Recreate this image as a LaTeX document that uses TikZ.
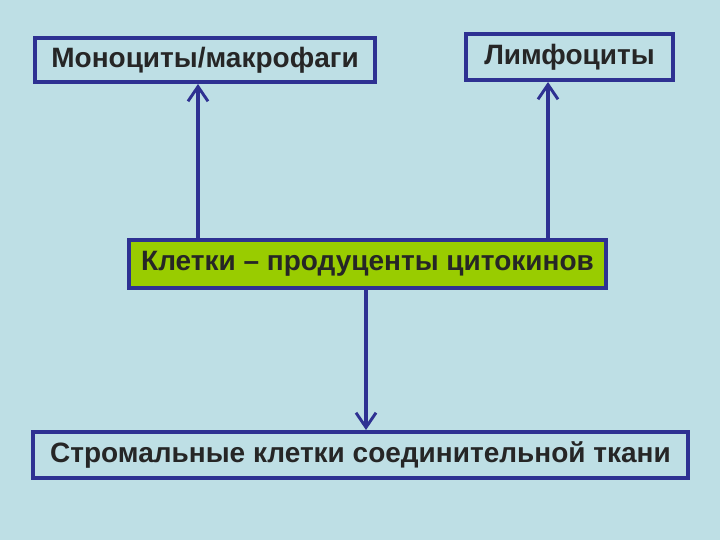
\documentclass[tikz,border=0pt]{standalone}
\usepackage{fontspec}
\setmainfont{Liberation Sans}
\usetikzlibrary{arrows.meta}
\definecolor{bg}{HTML}{BEDFE5}
\definecolor{bd}{HTML}{2E3192}
\definecolor{gr}{HTML}{99CC00}
\tikzset{box/.style={draw=bd,line width=3pt,font=\bfseries\fontsize{21}{23}\selectfont,inner sep=0pt,text=black!85},
conn/.style={draw=bd,line width=3pt,-{Straight Barb[length=11pt,width=15pt,line width=2.2pt]}}}
\begin{document}
\begin{tikzpicture}[x=0.75pt,y=-0.75pt]
\fill[bg] (0,0) rectangle (720,540);
\node[box,minimum width=255pt,minimum height=33pt] (m) at (205,60) {Моноциты/макрофаги};
\node[box,minimum width=155pt,minimum height=34.5pt] (l) at (569.5,57) {Лимфоциты};
\node[box,fill=gr,minimum width=357.75pt,minimum height=36pt] (k) at (367.5,264) {Клетки – продуценты цитокинов};
\node[box,minimum width=491.25pt,minimum height=34.5pt] (s) at (360.5,455) {Стромальные клетки соединительной ткани};
\draw[conn] (k.north -| 198,0) -- (m.south -| 198,0);
\draw[conn] (k.north -| 548,0) -- (l.south -| 548,0);
\draw[conn] (k.south -| 366,0) -- (s.north -| 366,0);
\end{tikzpicture}
\end{document}
